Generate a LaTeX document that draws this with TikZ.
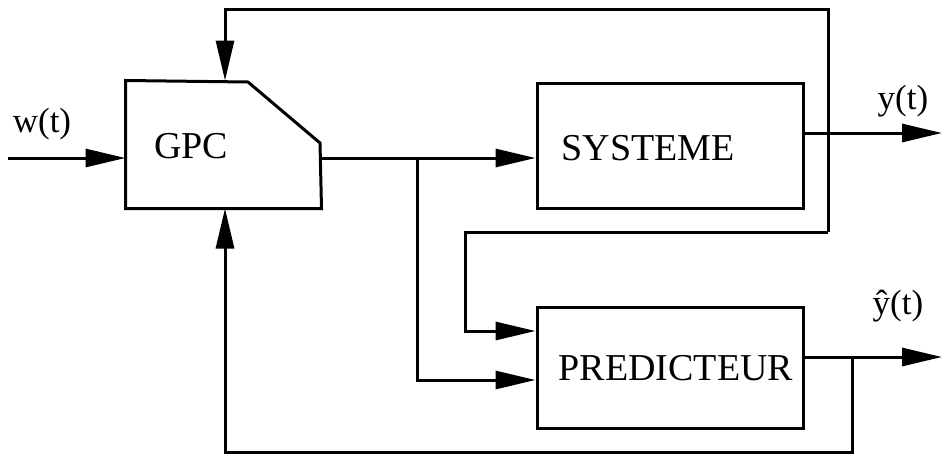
\documentclass[tikz,border=0pt]{standalone}
\usepackage{fontspec}
\setmainfont{Liberation Serif}
\usetikzlibrary{arrows.meta}
\begin{document}
\begin{tikzpicture}[x=1pt,y=-1pt,
  line width=3pt,
  blk/.style={draw, line width=3pt, minimum width=266pt, inner sep=0pt},
  ghost/.style={inner sep=0pt, minimum width=193pt, minimum height=125pt},
  boxtxt/.style={font=\fontsize{38}{40}\selectfont, inner sep=0pt},
  sig/.style={font=\fontsize{35}{37}\selectfont, inner sep=0pt},
  arr/.style={-{Triangle[length=40pt,width=18pt]}},
  ]
\useasboundingbox (0,0) rectangle (942,455);
% blocks
\node[ghost] (gpc) at (223.5,144.5) {};
\draw[line join=miter] (gpc.north west) -- (248,82) -- (320,143) -- (gpc.south east) -- (gpc.south west) -- cycle;
\node[boxtxt] (gpct) at (191,146) {GPC};
\node[blk, minimum height=125pt] (sys) at (670,145.5) {};
\node[boxtxt] (syst) at (648,148) {SYSTEME};
\node[blk, minimum height=121pt] (pred) at (670,367.5) {};
\node[boxtxt] (predt) at (676,368) {PREDICTEUR};
% signal labels
\node[sig] (wl) at (42,124) {w(t)};
\node[sig] (yl) at (903,101) {y(t)};
\node[sig] (yhl) at (898,306) {ŷ(t)};
% coordinates
\coordinate (win) at (8,158);
\coordinate (b1) at (417,158);
\coordinate (yout) at (942,133);
\coordinate (ftop) at (828,9);
\coordinate (gtop) at (225,9);
\coordinate (fmid) at (828,232);
\coordinate (fleft) at (465,232);
\coordinate (pin1) at (465,331);
\coordinate (pin2) at (417,380);
\coordinate (yhout) at (942,357);
\coordinate (b2) at (852,357);
\coordinate (fbot) at (852,452);
\coordinate (gbot) at (225,452);
% connectors
\draw[arr] (win) -- (win -| gpc.west);
\draw[arr] (gpc.east |- win) -- (sys.west |- win);
\draw[arr] (b1) |- (pred.west |- pin2);
\draw[arr] (sys.east |- yout) -- (yout);
\draw[arr] (fmid) -- (ftop) -- (gtop) -- (gtop |- gpc.north);
\draw[arr] (fmid) -- (fleft) -- (pin1) -- (pred.west |- pin1);
\draw[arr] (pred.east |- yhout) -- (yhout);
\draw[arr] (b2) -- (fbot) -- (gbot) -- (gbot |- gpc.south);
\end{tikzpicture}
\end{document}
